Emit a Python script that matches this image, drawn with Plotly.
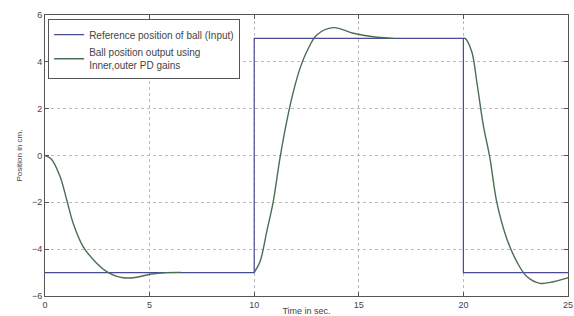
import plotly.graph_objects as go

# Reference input (step signal)
ref_t = [0, 10, 20, 25]
ref_v = [-5, 5, -5, -5]

# Ball position output, three segments
out1_t = [0, 0.3, 0.72, 1.04, 1.35, 1.83, 2.47, 2.95, 3.4, 3.74, 4.22, 5.02, 5.8, 6.5]
out1_v = [0, -0.15, -0.9, -1.9, -2.9, -3.9, -4.6, -4.96, -5.15, -5.22, -5.22, -5.07, -5.0, -4.99]
out2_t = [10.0, 10.28, 10.6, 10.91, 11.23, 11.55, 11.87, 12.19, 12.51, 12.99, 13.78, 14.74, 15.69, 16.65]
out2_v = [-5.0, -4.53, -3.25, -1.97, -0.12, 1.44, 2.72, 3.72, 4.43, 5.15, 5.46, 5.22, 5.07, 5.0]
out3_t = [20.0, 20.08, 20.4, 20.64, 20.95, 21.27, 21.59, 22.07, 22.55, 23.03, 23.66, 24.3, 24.94, 25]
out3_v = [5.0, 5.0, 4.43, 3.15, 1.30, -0.12, -1.97, -3.54, -4.53, -5.17, -5.46, -5.39, -5.24, -5.22]

x_ticks = [0, 5, 10, 15, 20, 25]
y_ticks = [-6, -4, -2, 0, 2, 4, 6]

out_t = out1_t + [None] + out2_t + [None] + out3_t
out_v = out1_v + [None] + out2_v + [None] + out3_v

FONT = "Liberation Sans, Arial"

fig = go.Figure()
fig.add_trace(go.Scatter(
    x=ref_t, y=ref_v, mode="lines", line_shape="hv",
    line=dict(color="#4a4a96", width=1.2),
    name="Reference position of ball (Input)"))
fig.add_trace(go.Scatter(
    x=out_t, y=out_v, mode="lines", line_shape="spline",
    line=dict(color="#4a6e52", width=1.4, smoothing=1.0), connectgaps=False,
    name="Ball position output using<br>Inner,outer PD gains"))

axis_common = dict(
    showline=True, mirror="allticks", linecolor="#555555", linewidth=1,
    ticks="inside", ticklen=4, tickcolor="#555555",
    showgrid=True, gridcolor="#bbbbbb", griddash="dot", gridwidth=1,
    zeroline=False, automargin=False,
    tickfont=dict(family=FONT, size=9, color="#444444"),
)

fig.update_xaxes(range=[0, 25], tickvals=x_ticks, ticklabelstandoff=0, **axis_common,
                 title=dict(text="Time in sec.", font=dict(family=FONT, size=9, color="#444444"), standoff=0))
fig.update_yaxes(range=[-6, 6], tickvals=y_ticks, **axis_common,
                 title=dict(text="Position in cm.", font=dict(family=FONT, size=8, color="#444444"), standoff=8))

fig.update_layout(
    width=574, height=316,
    margin=dict(l=45, r=6, t=15, b=20),
    paper_bgcolor="white", plot_bgcolor="white",
    showlegend=True,
    legend=dict(x=0.006, y=0.985, xanchor="left", yanchor="top",
                bgcolor="white", bordercolor="#555555", borderwidth=1,
                font=dict(family=FONT, size=10, color="#444444"),
                tracegroupgap=0, itemwidth=30),
)

fig.write_html("out.html", config={"displayModeBar": False},
               post_script="document.body.style.margin='0px';document.body.style.overflow='hidden';")
